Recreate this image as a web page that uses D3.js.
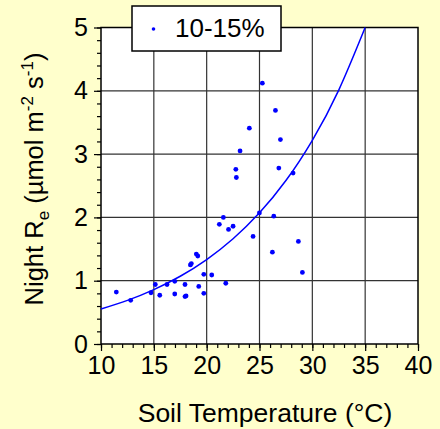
<html>
<meta charset="utf-8">
<style>
  body { margin: 0; background: #ffffcc; }
</style>
<script src="https://d3js.org/d3.v7.min.js"></script>
<div id="my_dataviz"></div>

<script>
let width = 440,
    height = 429

// soil temperature (°C) and night Re values
let soilTemp = [25.27, 26.51, 24.04, 26.98, 23.16, 22.76, 22.81, 26.83, 28.18, 21.58,
                24.99, 26.35, 21.20, 22.50, 22.07, 24.39, 28.68, 26.22, 29.06, 19.02,
                19.16, 18.46, 18.55, 19.73, 20.48, 21.81, 15.14, 16.25, 16.98, 17.95,
                19.25, 11.45, 14.73, 15.56, 16.98, 17.95, 18.05, 19.73, 12.81]
let nightRe = [4.12, 3.69, 3.41, 3.23, 3.05, 2.76, 2.63, 2.78, 2.70, 2.00,
               2.07, 2.02, 1.89, 1.86, 1.81, 1.70, 1.62, 1.45, 1.13, 1.42,
               1.39, 1.25, 1.27, 1.10, 1.09, 0.96, 0.94, 0.94, 0.99, 0.94,
               0.91, 0.82, 0.81, 0.77, 0.79, 0.75, 0.76, 0.80, 0.69]

// fitted curve, read at a few temperatures
let fitTemp = [10, 12.5, 15, 17.5, 20, 22.5, 25, 27.5, 30, 32.5, 35]
let fitRe = [0.553, 0.689, 0.859, 1.070, 1.334, 1.663, 2.072, 2.582, 3.218, 4.011, 5.0]

let xTicks = [10, 15, 20, 25, 30, 35, 40]
let yTicks = [0, 1, 2, 3, 4, 5]
let legendLabel = "10-15%"

let pLeft = 101, pRight = 418, pTop = 27.5, pBottom = 344

let svg = d3.select("#my_dataviz")
  .append("svg")
    .attr("width", width)
    .attr("height", height)
    .style("font-family", "Liberation Sans, Arial, sans-serif")

svg.append("rect")
    .attr("width", width)
    .attr("height", height)
    .attr("fill", "#ffffcc")

let x = d3.scaleLinear().domain([10, 40]).range([pLeft, pRight])
let y = d3.scaleLinear().domain([0, 5]).range([pBottom, pTop])

svg.append("rect")
    .attr("x", pLeft).attr("y", pTop)
    .attr("width", pRight - pLeft).attr("height", pBottom - pTop)
    .attr("fill", "white")

// grid
svg.append("g")
  .selectAll("line")
  .data(xTicks.slice(1, -1))
  .enter().append("line")
    .attr("x1", d => x(d)).attr("x2", d => x(d))
    .attr("y1", pTop).attr("y2", pBottom)
    .attr("stroke", "#333").attr("stroke-width", 1.2)
svg.append("g")
  .selectAll("line")
  .data(yTicks.slice(1, -1))
  .enter().append("line")
    .attr("x1", pLeft).attr("x2", pRight)
    .attr("y1", d => y(d)).attr("y2", d => y(d))
    .attr("stroke", "#333").attr("stroke-width", 1.2)

// axes
let xMinor = d3.range(10, 41, 1)
let yMinor = d3.range(0, 5.01, 0.2)

svg.append("g")
    .attr("transform", "translate(0," + pBottom + ")")
    .call(d3.axisBottom(x).tickValues(xMinor).tickSize(4).tickFormat(""))
svg.append("g")
    .attr("transform", "translate(0," + pBottom + ")")
    .call(d3.axisBottom(x).tickValues(xTicks).tickSize(7).tickPadding(5).tickFormat(d3.format("d")))
svg.append("g")
    .attr("transform", "translate(" + pLeft + ",0)")
    .call(d3.axisLeft(y).tickValues(yMinor).tickSize(4).tickFormat(""))
svg.append("g")
    .attr("transform", "translate(" + pLeft + ",0)")
    .call(d3.axisLeft(y).tickValues(yTicks).tickSize(7).tickPadding(6).tickFormat(d3.format("d")))

svg.selectAll(".domain").remove()
svg.selectAll(".tick line").attr("stroke", "black").attr("stroke-width", 1.2)
svg.selectAll(".tick text")
    .attr("font-size", "25px")
    .attr("font-family", "Liberation Sans, Arial, sans-serif")
    .attr("fill", "black")

svg.append("rect")
    .attr("x", pLeft).attr("y", pTop)
    .attr("width", pRight - pLeft).attr("height", pBottom - pTop)
    .attr("fill", "none")
    .attr("stroke", "black")
    .attr("stroke-width", 1.5)

// fit curve
let line = d3.line()
    .x((d, i) => x(fitTemp[i]))
    .y(d => y(d))
    .curve(d3.curveNatural)

svg.append("path")
    .datum(fitRe)
    .attr("d", line)
    .attr("fill", "none")
    .attr("stroke", "#0000ff")
    .attr("stroke-width", 1.5)

// points
svg.append("g")
  .selectAll("circle")
  .data(nightRe)
  .enter().append("circle")
    .attr("cx", (d, i) => x(soilTemp[i]))
    .attr("cy", d => y(d))
    .attr("r", 2.4)
    .attr("fill", "#0000ff")

// legend
svg.append("rect")
    .attr("x", 132).attr("y", 6)
    .attr("width", 149).attr("height", 45)
    .attr("fill", "white")
    .attr("stroke", "black")
    .attr("stroke-width", 1.5)
svg.append("circle")
    .attr("cx", 153.5).attr("cy", 29)
    .attr("r", 1.8)
    .attr("fill", "#0000ff")
svg.append("text")
    .attr("x", 175).attr("y", 37)
    .attr("font-size", "26px")
    .text(legendLabel)

// axis titles
svg.append("text")
    .attr("x", 265).attr("y", 422)
    .attr("text-anchor", "middle")
    .attr("font-size", "26.5px")
    .text("Soil Temperature (°C)")

let yt = svg.append("text")
    .attr("transform", "translate(43,179) rotate(-90)")
    .attr("text-anchor", "middle")
    .attr("font-size", "25.5px")
yt.append("tspan").text("Night R")
yt.append("tspan").attr("font-size", "17px").attr("dy", 6).text("e")
yt.append("tspan").attr("dy", -6).text(" (µmol m")
yt.append("tspan").attr("font-size", "17px").attr("dy", -10).text("-2")
yt.append("tspan").attr("dy", 10).text(" s")
yt.append("tspan").attr("font-size", "17px").attr("dy", -10).text("-1")
yt.append("tspan").attr("dy", 10).text(")")
</script>
</html>
